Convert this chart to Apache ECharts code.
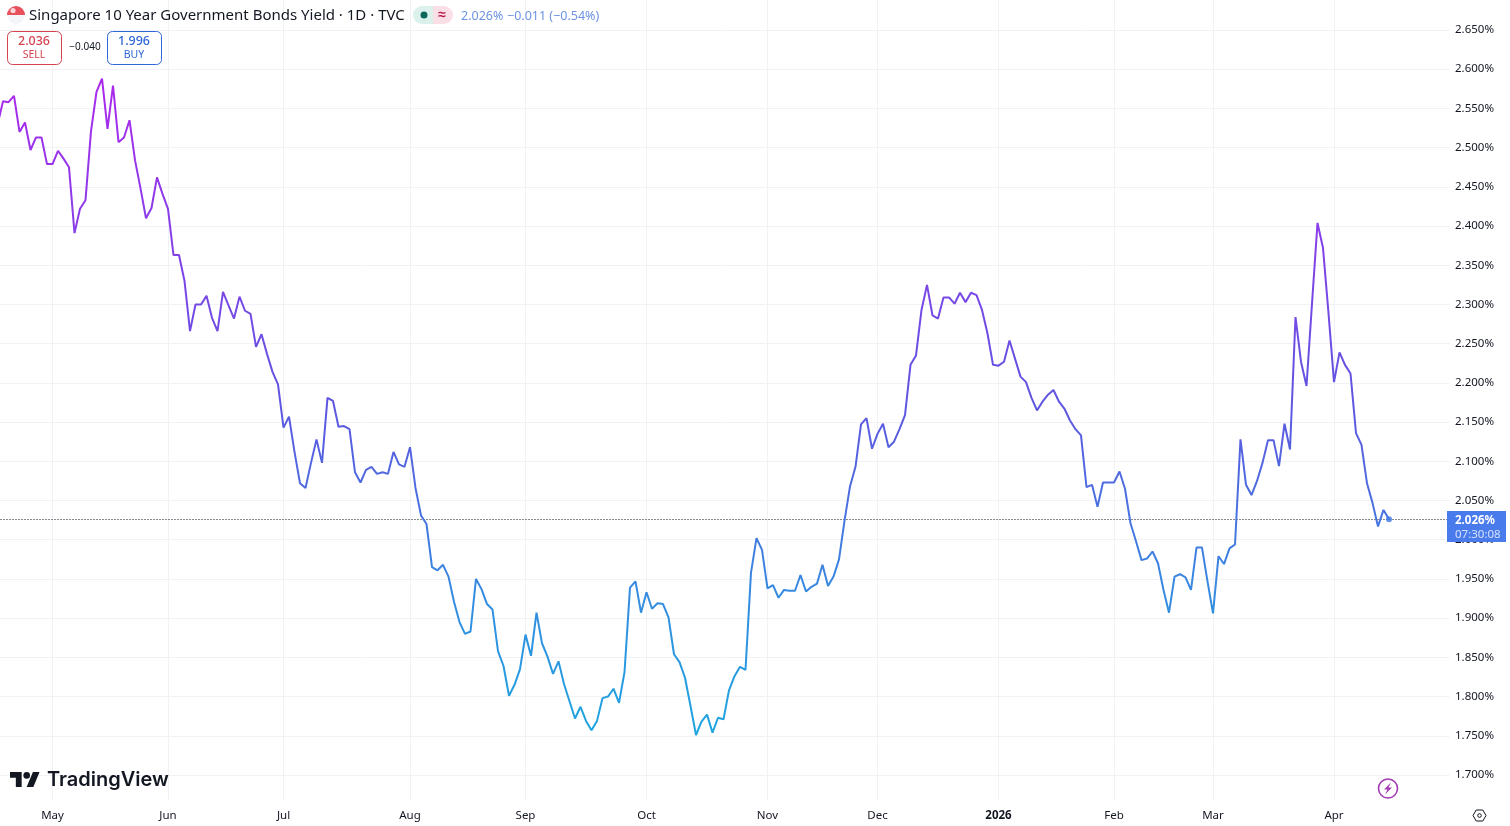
<!DOCTYPE html>
<html>
<head>
<meta charset="utf-8">
<title>Singapore 10 Year Government Bonds Yield</title>
<script src="https://cdn.jsdelivr.net/npm/echarts@6/dist/echarts.min.js"></script>
<style>
    html, body { margin: 0; padding: 0; background: #fff; }
    #chart { width: 1510px; height: 826px; }
</style>
</head>
<body>
<div id="chart"></div>
<script>
// Daily closes, one per trading day
const yields = [
    2.529, 2.559, 2.558, 2.566, 2.520, 2.532, 2.497, 2.513, 2.513, 2.479,
    2.479, 2.496, 2.486, 2.475, 2.391, 2.422, 2.433, 2.521, 2.571, 2.588,
    2.524, 2.579, 2.507, 2.513, 2.535, 2.484, 2.448, 2.410, 2.423, 2.462,
    2.441, 2.422, 2.363, 2.363, 2.330, 2.266, 2.300, 2.300, 2.311, 2.283,
    2.266, 2.316, 2.299, 2.282, 2.310, 2.292, 2.288, 2.246, 2.262, 2.237,
    2.214, 2.198, 2.143, 2.157, 2.112, 2.072, 2.066, 2.098, 2.128, 2.098,
    2.181, 2.177, 2.144, 2.145, 2.141, 2.086, 2.073, 2.089, 2.093, 2.084,
    2.086, 2.084, 2.112, 2.096, 2.093, 2.118, 2.066, 2.031, 2.020, 1.965,
    1.961, 1.968, 1.953, 1.921, 1.895, 1.880, 1.883, 1.950, 1.937, 1.918,
    1.911, 1.858, 1.839, 1.801, 1.815, 1.835, 1.879, 1.852, 1.907, 1.868,
    1.851, 1.829, 1.845, 1.816, 1.794, 1.772, 1.787, 1.769, 1.757, 1.769,
    1.798, 1.800, 1.810, 1.792, 1.831, 1.939, 1.947, 1.907, 1.933, 1.912,
    1.919, 1.918, 1.901, 1.854, 1.844, 1.824, 1.788, 1.751, 1.768, 1.777,
    1.754, 1.773, 1.771, 1.808, 1.826, 1.838, 1.834, 1.958, 2.002, 1.987,
    1.938, 1.942, 1.926, 1.936, 1.935, 1.935, 1.955, 1.934, 1.940, 1.944,
    1.968, 1.941, 1.953, 1.975, 2.024, 2.068, 2.093, 2.147, 2.155, 2.116,
    2.135, 2.148, 2.118, 2.125, 2.141, 2.159, 2.223, 2.235, 2.293, 2.325,
    2.286, 2.282, 2.309, 2.309, 2.301, 2.315, 2.303, 2.315, 2.312, 2.293,
    2.263, 2.223, 2.222, 2.227, 2.254, 2.231, 2.208, 2.201, 2.181, 2.165,
    2.176, 2.185, 2.191, 2.176, 2.167, 2.152, 2.141, 2.133, 2.067, 2.070,
    2.042, 2.073, 2.073, 2.073, 2.087, 2.065, 2.021, 1.998, 1.974, 1.976,
    1.985, 1.970, 1.936, 1.907, 1.953, 1.956, 1.952, 1.936, 1.990, 1.990,
    1.947, 1.906, 1.979, 1.969, 1.989, 1.994, 2.128, 2.070, 2.057, 2.075,
    2.098, 2.127, 2.127, 2.094, 2.148, 2.115, 2.284, 2.227, 2.196, 2.301,
    2.404, 2.372, 2.289, 2.201, 2.239, 2.223, 2.212, 2.136, 2.121, 2.072,
    2.047, 2.017, 2.038, 2.026
];
const monthLabels = ['May', 'Jun', 'Jul', 'Aug', 'Sep', 'Oct', 'Nov', 'Dec', '2026', 'Feb', 'Mar', 'Apr'];
const monthStarts = [10, 31, 52, 75, 96, 118, 140, 160, 182, 203, 221, 243];
const emptyDaysAfter = 11;   // blank room between the last close and the price scale

const lastPrice = 2.026;
const countdown = '07:30:08';
const titleText = 'Singapore 10 Year Government Bonds Yield · 1D · TVC';
const headerPrice = '2.026%';
const headerChange = '−0.011 (−0.54%)';
const sellPrice = '2.036';
const buyPrice = '1.996';
const spreadText = '−0.040';

const ink = '#131722';
const gridColor = '#f0f2f6';
const uiFont = '"Noto Sans", sans-serif';

const categories = [];
for (let i = 0; i < yields.length + emptyDaysAfter; i++) {
    categories.push(String(i));
}

function isMonthStart(index) {
    return monthStarts.includes(index);
}

function textEl(text, x, y, size, color, extra) {
    return {
        type: 'text',
        z: 20,
        style: Object.assign({
            text: text, x: x, y: y, fill: color,
            fontSize: size, fontFamily: uiFont,
            textVerticalAlign: 'middle'
        }, extra || {})
    };
}

function quoteBox(x, color, price, side) {
    return [
        {
            type: 'rect', z: 20,
            shape: { x: x + 0.5, y: 31.5, width: 54, height: 33, r: 5 },
            style: { fill: '#fff', stroke: color, lineWidth: 1 }
        },
        textEl(price, x + 27, 41.5, 12.5, color, { textAlign: 'center', fontWeight: 500 }),
        textEl(side, x + 27, 55.5, 10.5, color, { textAlign: 'center' })
    ];
}

// logo drawn on a 36 wide grid, then scaled into place
function logoPoints(points) {
    return points.map(p => [10 + p[0] * 0.833, 766.2 + p[1] * 0.833]);
}

const headerGraphics = [
    // flag
    { type: 'circle', z: 20, shape: { cx: 16, cy: 15, r: 9 }, style: { fill: '#f4f5f8' } },
    {
        type: 'sector', z: 21,
        shape: { cx: 16, cy: 15, r: 9, startAngle: Math.PI, endAngle: 2 * Math.PI },
        style: { fill: '#e8505b' }
    },
    { type: 'circle', z: 22, shape: { cx: 13, cy: 10.5, r: 2.6 }, style: { fill: '#f8d5d8' } },
    textEl(titleText, 29, 16, 15, ink),
    // market status pill
    { type: 'rect', z: 20, shape: { x: 413, y: 6, width: 20, height: 18, r: [9, 0, 0, 9] }, style: { fill: '#dcf1ec' } },
    { type: 'rect', z: 20, shape: { x: 433, y: 6, width: 20, height: 18, r: [0, 9, 9, 0] }, style: { fill: '#fbdfe7' } },
    { type: 'circle', z: 21, shape: { cx: 424, cy: 15, r: 3.5 }, style: { fill: '#08675a' } },
    textEl('≈', 442, 15, 14, '#b5174e', { textAlign: 'center', fontWeight: 700 }),
    textEl(headerPrice, 461, 16, 12.5, '#6d93e4'),
    textEl(headerChange, 507, 16, 12.5, '#6d93e4')
]
    .concat(quoteBox(7, '#d5434f', sellPrice, 'SELL'))
    .concat(quoteBox(107, '#2f66d8', buyPrice, 'BUY'))
    .concat([textEl(spreadText, 85, 47.5, 10, ink, { textAlign: 'center' })]);

const priceTagGraphics = [
    { type: 'rect', z: 30, shape: { x: 1447, y: 511, width: 59, height: 31 }, style: { fill: '#4a7bec' } },
    Object.assign(textEl(lastPrice.toFixed(3) + '%', 1455, 521, 11.5, '#fff', { fontWeight: 700 }), { z: 31 }),
    Object.assign(textEl(countdown, 1455, 535, 11.5, '#d3e0fb'), { z: 31 })
];

const brandGraphics = [
    {
        type: 'polygon', z: 20,
        shape: { points: logoPoints([[14, 25], [7, 25], [7, 14], [0, 14], [0, 7], [14, 7]]) },
        style: { fill: ink }
    },
    {
        type: 'polygon', z: 20,
        shape: { points: logoPoints([[28, 25], [20, 25], [27.5, 7], [35.5, 7]]) },
        style: { fill: ink }
    },
    { type: 'circle', z: 20, shape: { cx: 26.7, cy: 775.4, r: 3.3 }, style: { fill: ink } },
    textEl('TradingView', 47, 780, 20, ink, { fontFamily: 'Inter, sans-serif', fontWeight: 600 }),
    // lightning badge
    { type: 'circle', z: 20, shape: { cx: 1388, cy: 788.5, r: 9.5 }, style: { fill: '#fff', stroke: '#a23ab4', lineWidth: 1.6 } },
    {
        type: 'polygon', z: 21,
        shape: { points: [[1391, 782.5], [1384, 789.5], [1387.5, 789.5], [1385, 794.5], [1392, 787.5], [1388.5, 787.5]] },
        style: { fill: '#a23ab4' }
    },
    // settings hexagon
    {
        type: 'polygon', z: 20,
        shape: { points: [[1473, 815.5], [1476.2, 810], [1482.8, 810], [1486, 815.5], [1482.8, 821], [1476.2, 821]] },
        style: { fill: 'none', stroke: ink, lineWidth: 1 }
    },
    { type: 'circle', z: 20, shape: { cx: 1479.5, cy: 815.5, r: 1.8 }, style: { fill: 'none', stroke: ink, lineWidth: 1 } }
];

const chart = echarts.init(document.getElementById('chart'), null, { renderer: 'canvas' });

chart.setOption({
    animation: false,
    backgroundColor: '#ffffff',
    grid: [
        // price pane: 1.700 to 2.650
        { left: -2.5, width: 1452, top: 30, height: 745, outerBoundsMode: 'none' },
        // time pane: full height, holds the month lines and labels
        { left: -2.5, width: 1452, top: 0, height: 800, outerBoundsMode: 'none' }
    ],
    xAxis: [
        {
            gridIndex: 0, type: 'category', data: categories, boundaryGap: false, show: false
        },
        {
            gridIndex: 1, type: 'category', data: categories, boundaryGap: false,
            axisLine: { show: false },
            axisTick: { show: false },
            splitLine: {
                show: true,
                interval: (index) => isMonthStart(index),
                lineStyle: { color: gridColor, width: 1 }
            },
            axisLabel: {
                interval: (index) => isMonthStart(index),
                margin: 10,
                hideOverlap: false,
                formatter: (value) => {
                    const label = monthLabels[monthStarts.indexOf(Number(value))] || '';
                    return label === '2026' ? '{year|' + label + '}' : label;
                },
                color: ink,
                fontSize: 11.5,
                fontFamily: uiFont,
                rich: { year: { fontWeight: 700, fontSize: 11.5, color: ink, fontFamily: uiFont } }
            }
        }
    ],
    yAxis: [
        {
            gridIndex: 0, type: 'value', position: 'right',
            min: 1.7, max: 2.65, interval: 0.05,
            axisLine: { show: false },
            axisTick: { show: false },
            splitLine: { show: true, lineStyle: { color: gridColor, width: 1 } },
            axisLabel: {
                margin: 5.5,
                padding: [2, 0, 0, 0],
                color: ink,
                fontSize: 11.5,
                fontFamily: uiFont,
                formatter: (value) => value.toFixed(3) + '%'
            }
        },
        { gridIndex: 1, type: 'value', show: false, min: 0, max: 1 }
    ],
    series: [
        {
            name: 'Yield',
            type: 'line',
            xAxisIndex: 0,
            yAxisIndex: 0,
            data: yields,
            showSymbol: false,
            smooth: false,
            clip: false,
            lineStyle: {
                width: 2,
                color: {
                    type: 'linear', x: 0, y: 0, x2: 0, y2: 1,
                    colorStops: [
                        { offset: 0, color: '#ac28ec' },
                        { offset: 0.32, color: '#7a46e6' },
                        { offset: 0.49, color: '#5f55e0' },
                        { offset: 0.64, color: '#4b6fe0' },
                        { offset: 0.79, color: '#348ce0' },
                        { offset: 1, color: '#1ea6e0' }
                    ]
                }
            },
            markLine: {
                silent: true,
                symbol: 'none',
                animation: false,
                precision: 3,
                label: { show: false },
                lineStyle: { type: [1, 2], color: '#131722', width: 1 },
                data: [{ yAxis: lastPrice }]
            },
            z: 5
        },
        {
            name: 'Last',
            type: 'scatter',
            xAxisIndex: 0,
            yAxisIndex: 0,
            data: [[yields.length - 1, lastPrice]],
            symbolSize: 6,
            itemStyle: { color: '#3f78e8' },
            z: 6
        }
    ],
    graphic: headerGraphics.concat(priceTagGraphics, brandGraphics)
});
</script>
</body>
</html>
